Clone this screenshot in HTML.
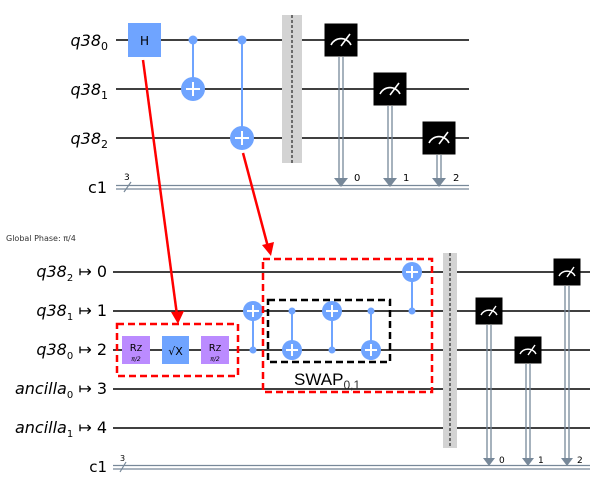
<!DOCTYPE html>
<html><head><meta charset="utf-8"><style>
html,body{margin:0;padding:0;background:#fff;}
svg{display:block;font-family:"DejaVu Sans","Liberation Sans",sans-serif;}
.w{stroke:#000;stroke-width:1.5;}
.c{stroke:#778899;stroke-width:1.3;}
.lbl{font-size:16px;font-style:italic;}
</style></head><body>
<svg width="594" height="483" viewBox="0 0 594 483" xmlns="http://www.w3.org/2000/svg">
<defs>
<g id="meas"><rect x="-16.5" y="-16.5" width="33" height="33" fill="#000"/><path d="M-10,5 A11,11 0 0 1 10,5" fill="none" stroke="#fff" stroke-width="1.6"/><line x1="0" y1="6" x2="9" y2="-6" stroke="#fff" stroke-width="1.6"/></g>
<g id="meas2"><rect x="-13.5" y="-13.5" width="27" height="27" fill="#000"/><path d="M-8,4 A9,9 0 0 1 8,4" fill="none" stroke="#fff" stroke-width="1.4"/><line x1="0" y1="5" x2="7" y2="-5" stroke="#fff" stroke-width="1.4"/></g>
<g id="tgt"><circle r="12" fill="#6fa4ff"/><line x1="-7" y1="0" x2="7" y2="0" stroke="#fff" stroke-width="2"/><line x1="0" y1="-7" x2="0" y2="7" stroke="#fff" stroke-width="2"/></g>
<g id="tgt2"><circle r="10" fill="#6fa4ff"/><line x1="-6" y1="0" x2="6" y2="0" stroke="#fff" stroke-width="2"/><line x1="0" y1="-6" x2="0" y2="6" stroke="#fff" stroke-width="2"/></g>
</defs>
<!-- TOP -->
<text x="108" y="46" text-anchor="end" class="lbl">q38<tspan font-size="11" dy="4" font-style="normal">0</tspan></text>
<text x="108" y="95" text-anchor="end" class="lbl">q38<tspan font-size="11" dy="4" font-style="normal">1</tspan></text>
<text x="108" y="144" text-anchor="end" class="lbl">q38<tspan font-size="11" dy="4" font-style="normal">2</tspan></text>
<text x="107" y="193" text-anchor="end" font-size="16">c1</text>
<line class="w" x1="116" y1="40" x2="469" y2="40"/>
<line class="w" x1="116" y1="89" x2="469" y2="89"/>
<line class="w" x1="116" y1="138" x2="469" y2="138"/>
<line class="c" x1="116" y1="185.5" x2="469" y2="185.5"/>
<line class="c" x1="116" y1="189" x2="469" y2="189"/>
<line x1="124" y1="192" x2="131" y2="182" stroke="#778899" stroke-width="1.2"/>
<text x="124" y="180" font-size="9">3</text>
<rect x="128" y="23" width="33" height="34" fill="#6fa4ff"/>
<text x="144.5" y="45" text-anchor="middle" font-size="12" fill="#000">H</text>
<line x1="193" y1="40" x2="193" y2="89" stroke="#6fa4ff" stroke-width="2"/>
<circle cx="193" cy="40" r="4.5" fill="#6fa4ff"/><use href="#tgt" x="193" y="89"/>
<line x1="242" y1="40" x2="242" y2="138" stroke="#6fa4ff" stroke-width="2"/>
<circle cx="242" cy="40" r="4.5" fill="#6fa4ff"/><use href="#tgt" x="242" y="138"/>
<rect x="282" y="15" width="20" height="148" fill="#d3d3d3"/>
<line x1="292" y1="15" x2="292" y2="163" stroke="#000" stroke-width="1" stroke-dasharray="3,2"/>
<g stroke="#778899" stroke-width="1.3">
<line x1="339" y1="57" x2="339" y2="180"/><line x1="343" y1="57" x2="343" y2="180"/>
<line x1="388" y1="106" x2="388" y2="180"/><line x1="392" y1="106" x2="392" y2="180"/>
<line x1="437" y1="155" x2="437" y2="180"/><line x1="441" y1="155" x2="441" y2="180"/>
</g>
<g fill="#778899"><path d="M334,178 L348,178 L341,187Z"/><path d="M383,178 L397,178 L390,187Z"/><path d="M432,178 L446,178 L439,187Z"/></g>
<use href="#meas" x="341" y="40"/><use href="#meas" x="390" y="89"/><use href="#meas" x="439" y="138"/>
<text x="354" y="181" font-size="10">0</text><text x="403" y="181" font-size="10">1</text><text x="453" y="181" font-size="10">2</text>
<!-- BOTTOM -->
<text x="6" y="241" font-size="8" fill="#333">Global Phase: π/4</text>
<g class="lbl" font-size="15">
<text x="107" y="277" text-anchor="end">q38<tspan font-size="10" dy="4" font-style="normal">2</tspan><tspan dy="-4" font-style="normal"> ↦ 0</tspan></text>
<text x="107" y="316" text-anchor="end">q38<tspan font-size="10" dy="4" font-style="normal">1</tspan><tspan dy="-4" font-style="normal"> ↦ 1</tspan></text>
<text x="107" y="355" text-anchor="end">q38<tspan font-size="10" dy="4" font-style="normal">0</tspan><tspan dy="-4" font-style="normal"> ↦ 2</tspan></text>
<text x="107" y="394" text-anchor="end">ancilla<tspan font-size="10" dy="4" font-style="normal">0</tspan><tspan dy="-4" font-style="normal"> ↦ 3</tspan></text>
<text x="107" y="433" text-anchor="end">ancilla<tspan font-size="10" dy="4" font-style="normal">1</tspan><tspan dy="-4" font-style="normal"> ↦ 4</tspan></text>
</g>
<text x="107" y="472" text-anchor="end" font-size="15">c1</text>
<line class="w" x1="113" y1="272" x2="590" y2="272"/>
<line class="w" x1="113" y1="311" x2="590" y2="311"/>
<line class="w" x1="113" y1="350" x2="590" y2="350"/>
<line class="w" x1="113" y1="389" x2="590" y2="389"/>
<line class="w" x1="113" y1="428" x2="590" y2="428"/>
<line class="c" x1="113" y1="465.5" x2="590" y2="465.5"/>
<line class="c" x1="113" y1="469" x2="590" y2="469"/>
<line x1="120" y1="472" x2="126" y2="462" stroke="#778899" stroke-width="1.2"/>
<text x="120" y="461" font-size="8">3</text>
<rect x="122" y="336" width="28" height="28" fill="#bb8bff"/>
<text x="136" y="351" text-anchor="middle" font-size="10">R<tspan font-size="8">Z</tspan></text>
<text x="136" y="361" text-anchor="middle" font-size="6" font-style="italic">π/2</text>
<rect x="162" y="336" width="27" height="28" fill="#6fa4ff"/>
<text x="175.5" y="355" text-anchor="middle" font-size="11">√X</text>
<rect x="201" y="336" width="28" height="28" fill="#bb8bff"/>
<text x="215" y="351" text-anchor="middle" font-size="10">R<tspan font-size="8">Z</tspan></text>
<text x="215" y="361" text-anchor="middle" font-size="6" font-style="italic">π/2</text>
<rect x="117" y="324" width="121" height="52" fill="none" stroke="#f00" stroke-width="2.5" stroke-dasharray="7,4"/>
<line x1="253" y1="311" x2="253" y2="350" stroke="#6fa4ff" stroke-width="2"/>
<circle cx="253" cy="350" r="3.5" fill="#6fa4ff"/><use href="#tgt2" x="253" y="311"/>
<line x1="292" y1="311" x2="292" y2="350" stroke="#6fa4ff" stroke-width="2"/>
<circle cx="292" cy="311" r="3.5" fill="#6fa4ff"/><use href="#tgt2" x="292" y="350"/>
<line x1="332" y1="311" x2="332" y2="350" stroke="#6fa4ff" stroke-width="2"/>
<circle cx="332" cy="350" r="3.5" fill="#6fa4ff"/><use href="#tgt2" x="332" y="311"/>
<line x1="371" y1="311" x2="371" y2="350" stroke="#6fa4ff" stroke-width="2"/>
<circle cx="371" cy="311" r="3.5" fill="#6fa4ff"/><use href="#tgt2" x="371" y="350"/>
<line x1="412" y1="272" x2="412" y2="311" stroke="#6fa4ff" stroke-width="2"/>
<circle cx="412" cy="311" r="3.5" fill="#6fa4ff"/><use href="#tgt2" x="412" y="272"/>
<rect x="268" y="300" width="122" height="62" fill="none" stroke="#000" stroke-width="2.5" stroke-dasharray="7,4"/>
<text x="294" y="385" font-size="17" font-family="Liberation Sans, sans-serif">SWAP<tspan font-size="12" dy="4" fill="#333">0,1</tspan></text>
<rect x="263" y="259" width="169" height="133" fill="none" stroke="#f00" stroke-width="2.5" stroke-dasharray="7,4"/>
<rect x="443" y="253" width="14" height="195" fill="#d3d3d3"/>
<line x1="450" y1="253" x2="450" y2="448" stroke="#000" stroke-width="1" stroke-dasharray="3,2"/>
<g stroke="#778899" stroke-width="1.3">
<line x1="487" y1="325" x2="487" y2="460"/><line x1="491" y1="325" x2="491" y2="460"/>
<line x1="526" y1="364" x2="526" y2="460"/><line x1="530" y1="364" x2="530" y2="460"/>
<line x1="565" y1="286" x2="565" y2="460"/><line x1="569" y1="286" x2="569" y2="460"/>
</g>
<g fill="#778899"><path d="M483,458 L495,458 L489,466Z"/><path d="M522,458 L534,458 L528,466Z"/><path d="M561,458 L573,458 L567,466Z"/></g>
<use href="#meas2" x="489" y="311"/><use href="#meas2" x="528" y="350"/><use href="#meas2" x="567" y="272"/>
<text x="499" y="463" font-size="9">0</text><text x="538" y="463" font-size="9">1</text><text x="577" y="463" font-size="9">2</text>
<!-- red arrows -->
<g stroke="#f00" stroke-width="2.5" fill="#f00">
<line x1="143" y1="60" x2="177" y2="315"/>
<path d="M171,312 L184,311 L178,324Z" stroke="none"/>
<line x1="243" y1="153" x2="268" y2="247"/>
<path d="M262,245 L274,242 L271,256Z" stroke="none"/>
</g>
</svg>
</body></html>
